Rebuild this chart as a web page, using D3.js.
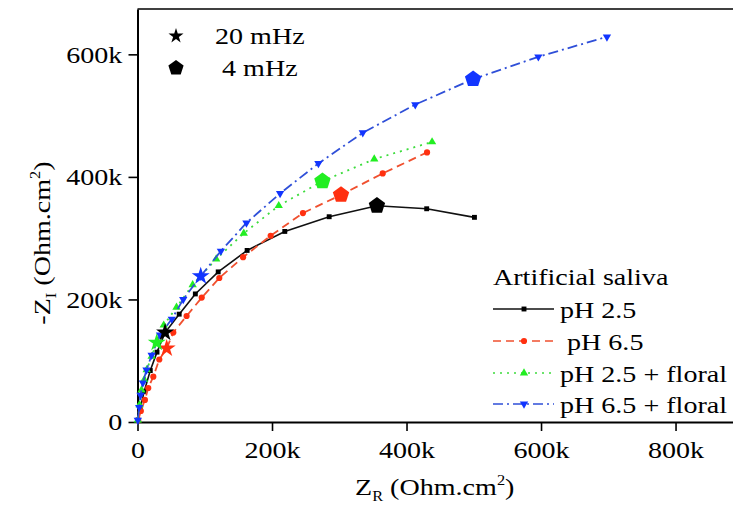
<!DOCTYPE html>
<html>
<head>
<meta charset="utf-8">
<script src="https://cdn.jsdelivr.net/npm/d3@7"></script>
<style>
  body { margin: 0; background: #fff; }
  text { font-family: "Liberation Serif", "Times New Roman", serif; fill: #000; }
  .pre { white-space: pre; }
</style>
</head>
<body>
<div id="chart"></div>
<script>
// values in k Ohm.cm2
var ph25X  = [0.5, 4, 10, 19, 29, 41, 62, 86, 120, 163, 219, 285, 356, 430, 501];
var ph25Y  = [3, 22, 50, 84, 114, 146, 176, 209, 245, 280, 311, 335, 353, 348, 334];
var ph65X  = [1, 5, 11, 16, 23.5, 32.4, 43.4, 53.2, 73, 95.5, 121.6, 157, 198, 246, 302.6, 364.6, 430.5];
var ph65Y  = [3, 18, 36, 55.5, 74, 102, 120, 146, 173, 203, 235, 269, 304, 341, 370.6, 405.7, 440];
var ph25fX = [0.5, 3, 6, 10, 13.7, 21, 28.6, 39, 58, 82, 117, 158, 210, 275, 352, 438];
var ph25fY = [3, 28, 52, 69, 85, 107, 129.5, 158, 187, 224, 266, 308, 353, 393, 429, 457];
var ph65fX = [0.5, 2.5, 4.5, 8, 13.4, 21, 33.5, 51, 68, 94, 124, 162, 212, 269, 335, 413, 499, 596, 698];
var ph65fY = [3, 24, 44, 64, 85, 109, 142, 168, 200, 238, 279, 325, 373, 422, 472, 518, 559.5, 596, 628.6];

// index of the 20 mHz point and the 4 mHz point in each series
var idx20mHz = [5, 6, 6, 9];
var idx4mHz  = [12, 14, 13, 16];

var seriesNames = ["pH 2.5", " pH 6.5", "pH 2.5 + floral", "pH 6.5 + floral"];
var freqLabels = ["20 mHz", " 4 mHz"];
var legendTitle = "Artificial saliva";
var xTicks = [0, 200, 400, 600, 800];
var yTicks = [0, 200, 400, 600];

// styles
var lineColors   = ["#111111", "#f0502f", "#3ddc3d", "#2f4fd8"];
var markerColors = ["#000000", "#ff3010", "#22ee22", "#1235ff"];
var dashes = [null, "8,5", "2,5", "10,4,2,4"];
var STRETCH = 1.17; // reference text is a bit wide

var width = 733, height = 518;
var svg = d3.select("#chart").append("svg")
    .attr("width", width)
    .attr("height", height);

var x = d3.scaleLinear().domain([0, 900]).range([137.5, 742.8]);
var y = d3.scaleLinear().domain([0, 674]).range([422, 9]);

// Axes
var xAxis = svg.append("g")
    .attr("transform", "translate(0," + y(0) + ")")
    .call(d3.axisBottom(x).tickValues(xTicks).tickSize(9).tickSizeOuter(0).tickPadding(10)
        .tickFormat(function(d){ return d === 0 ? "0" : d + "k"; }));
var yAxis = svg.append("g")
    .attr("transform", "translate(" + x(0) + ",0)")
    .call(d3.axisLeft(y).tickValues(yTicks).tickSize(9).tickSizeOuter(0).tickPadding(4)
        .tickFormat(function(d){ return d === 0 ? "0" : d + "k"; }));

[xAxis, yAxis].forEach(function(g){
    g.select(".domain").attr("stroke", "#000").attr("stroke-width", 2);
    g.selectAll(".tick line").attr("stroke", "#000").attr("stroke-width", 1.6);
    g.selectAll(".tick text")
        .style("font-size", "24px")
        .attr("fill", "#000")
        .attr("transform", "scale(" + STRETCH + ",1)");
});
xAxis.selectAll(".tick text").attr("transform", null)
    .each(function(){
        d3.select(this).attr("transform", "scale(" + STRETCH + ",1)").attr("x", 0);
    });

// top frame line
svg.append("line")
    .attr("x1", x(0)).attr("x2", x(900))
    .attr("y1", y(674)).attr("y2", y(674))
    .attr("stroke", "#000").attr("stroke-width", 1.6);

// Axis titles
function label(g, parts) {
    var t = g.append("text").attr("class", "pre").style("font-size", "24px");
    parts.forEach(function(p){
        var ts = t.append("tspan").text(p.t);
        if (p.sub) ts.style("font-size", "14px").attr("dy", 6);
        if (p.sup) ts.style("font-size", "14px").attr("dy", -10);
        if (p.back) ts.attr("dy", p.back);
    });
    return t;
}
var xt = svg.append("g").attr("transform", "translate(355,495) scale(" + STRETCH + ",1)");
label(xt, [{t: "Z"}, {t: "R", sub: true}, {t: " (Ohm.cm", back: -6}, {t: "2", sup: true}, {t: ")", back: 10}]);

var yt = svg.append("g").attr("transform", "translate(50,243) rotate(-90) scale(" + STRETCH + ",1)");
label(yt, [{t: "-Z"}, {t: "I", sub: true}, {t: " (Ohm.cm", back: -6}, {t: "2", sup: true}, {t: ")", back: 10}])
    .attr("text-anchor", "middle");

// Series
var allX = [ph25X, ph65X, ph25fX, ph65fX];
var allY = [ph25Y, ph65Y, ph25fY, ph65fY];
var series = allX.map(function(xs, i){
    return xs.map(function(v, j){ return {x: v, y: allY[i][j]}; });
});

var symbols = [
    d3.symbol().type(d3.symbolSquare).size(24),
    d3.symbol().type(d3.symbolCircle).size(30),
    d3.symbol().type(d3.symbolTriangle).size(30),
    d3.symbol().type(d3.symbolTriangle).size(30)
];
var rotations = [0, 0, 0, 180];

var line = d3.line().x(function(d){ return x(d.x); }).y(function(d){ return y(d.y); });

var lineG = svg.append("g");
series.forEach(function(s, i){
    lineG.append("path")
        .datum(s)
        .attr("d", line)
        .attr("fill", "none")
        .attr("stroke", lineColors[i])
        .attr("stroke-width", i === 0 ? 1.6 : 1.8)
        .attr("stroke-dasharray", dashes[i]);
    lineG.append("g").selectAll("path")
        .data(s)
        .enter().append("path")
        .attr("d", symbols[i])
        .attr("transform", function(d){
            return "translate(" + x(d.x) + "," + y(d.y) + ") rotate(" + rotations[i] + ")";
        })
        .attr("fill", markerColors[i]);
});

function pentagon(r) {
    var p = d3.path();
    for (var k = 0; k < 5; k++) {
        var a = -Math.PI / 2 + k * 2 * Math.PI / 5;
        if (k === 0) p.moveTo(r * Math.cos(a), r * Math.sin(a));
        else p.lineTo(r * Math.cos(a), r * Math.sin(a));
    }
    p.closePath();
    return p.toString();
}
var star = d3.symbol().type(d3.symbolStar);

// 4 mHz pentagons and 20 mHz stars
var bigG = svg.append("g");
series.forEach(function(s, i){
    var p = s[idx4mHz[i]];
    bigG.append("path")
        .attr("d", pentagon(8.6))
        .attr("transform", "translate(" + x(p.x) + "," + y(p.y) + ")")
        .attr("fill", markerColors[i]);
});
series.forEach(function(s, i){
    var p = s[idx20mHz[i]];
    bigG.append("path")
        .attr("d", star.size(100)())
        .attr("transform", "translate(" + x(p.x) + "," + y(p.y) + ")")
        .attr("fill", markerColors[i]);
});

// Frequency legend (top left)
var fl = svg.append("g");
fl.append("path").attr("d", star.size(70)()).attr("transform", "translate(176,36)").attr("fill", "#000");
fl.append("path").attr("d", pentagon(8)).attr("transform", "translate(176,68)").attr("fill", "#000");
fl.append("text").attr("class", "pre").style("font-size", "24px")
    .attr("transform", "translate(215,44) scale(" + STRETCH + ",1)").text(freqLabels[0]);
fl.append("text").attr("class", "pre").style("font-size", "24px")
    .attr("transform", "translate(215,76) scale(" + STRETCH + ",1)").text(freqLabels[1]);

// Series legend (bottom right)
var lg = svg.append("g");
lg.append("text").style("font-size", "24px")
    .attr("transform", "translate(493,285) scale(" + STRETCH + ",1)").text(legendTitle);
var rowY = [309, 341, 373, 404];
seriesNames.forEach(function(name, i){
    var ry = rowY[i];
    lg.append("line")
        .attr("x1", 493).attr("x2", 554).attr("y1", ry).attr("y2", ry)
        .attr("stroke", lineColors[i]).attr("stroke-width", 1.6)
        .attr("stroke-dasharray", dashes[i]);
    lg.append("path")
        .attr("d", symbols[i])
        .attr("transform", "translate(524," + ry + ") rotate(" + rotations[i] + ")")
        .attr("fill", markerColors[i]);
    lg.append("text").attr("class", "pre").style("font-size", "24px")
        .attr("transform", "translate(560," + (ry + 9) + ") scale(" + STRETCH + ",1)")
        .text(name);
});
</script>
</body>
</html>
